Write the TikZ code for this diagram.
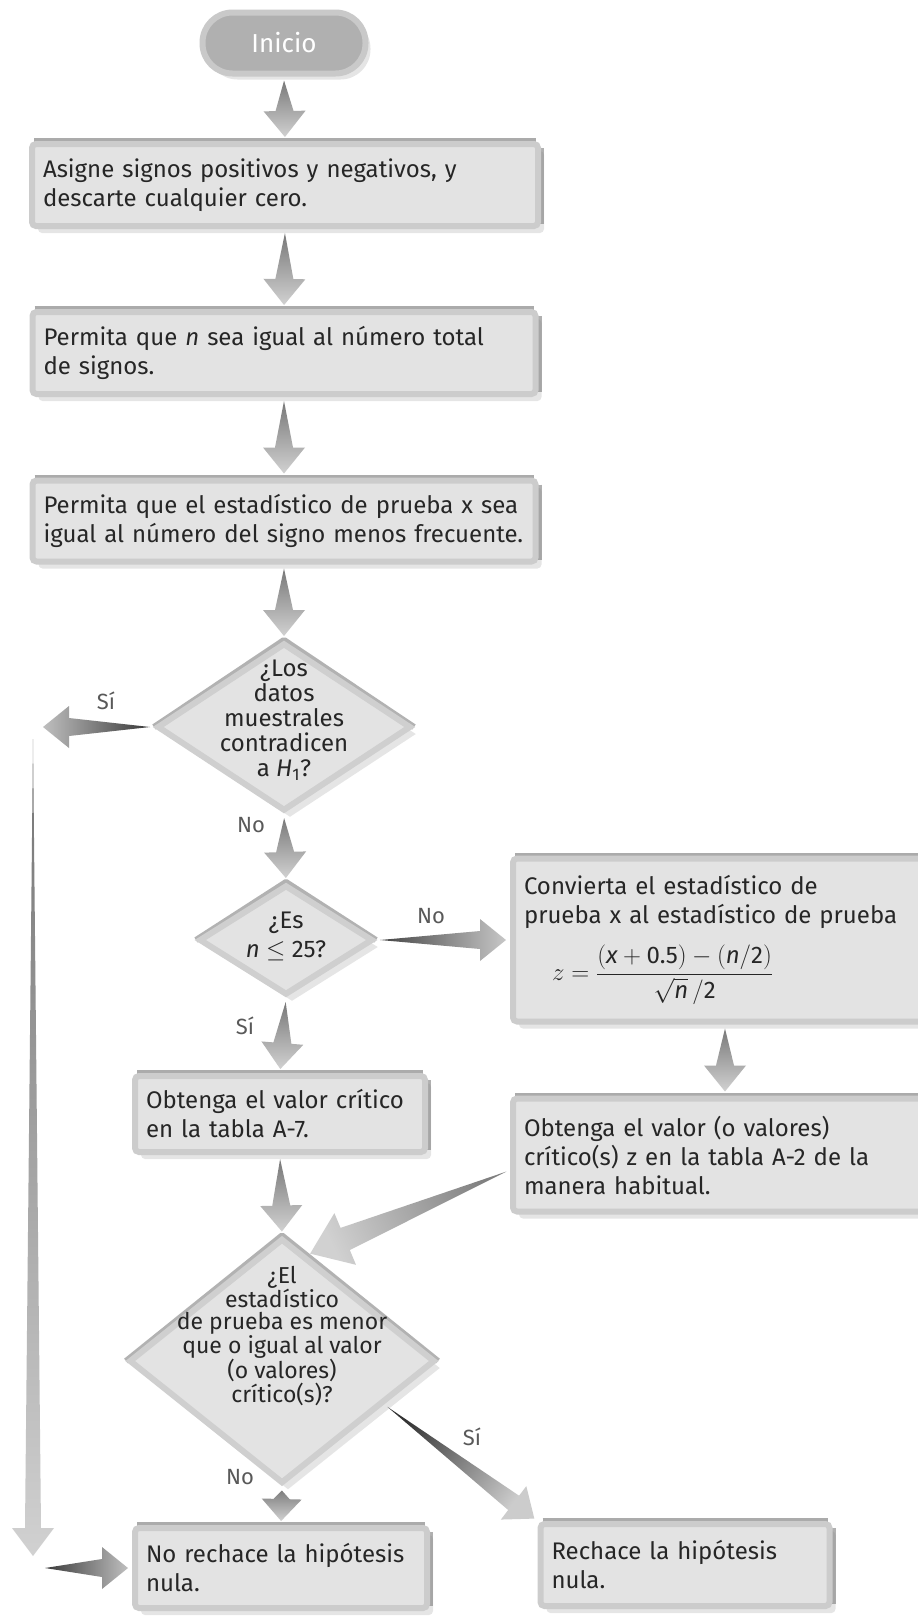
\documentclass[tikz,border=0pt]{standalone}
\usepackage{amsmath}
\usepackage{fontspec}
\setmainfont{Fira Sans}
\usetikzlibrary{calc,shapes.geometric,shadows}

\tikzset{
  fatarrow/.style n args={3}{to path={
    ($(\tikztostart)!4pt!(\tikztotarget)$)
    -- ($(\tikztotarget)!#1pt!(\tikztostart)!#3pt!90:(\tikztostart)$)
    -- ($(\tikztotarget)!#1pt!(\tikztostart)!#2pt!90:(\tikztostart)$)
    -- ($(\tikztotarget)!4pt!(\tikztostart)$)
    -- ($(\tikztotarget)!#1pt!(\tikztostart)!#2pt!-90:(\tikztostart)$)
    -- ($(\tikztotarget)!#1pt!(\tikztostart)!#3pt!-90:(\tikztostart)$)
    -- cycle}},
  flowarrow/.style={fatarrow={30}{21}{9}},
}

\begin{document}
\begin{tikzpicture}[x=1pt, y=-1pt,
    font=\fontsize{24}{29}\selectfont, text=black!85,
    startbox/.style={rectangle, rounded corners=30pt, fill=gray!62, draw=gray!42,
      line width=6pt, minimum width=163pt, minimum height=61pt, text=white,
      font=\fontsize{26}{30}\selectfont,
      drop shadow={shadow xshift=5pt, shadow yshift=-6pt, opacity=0.2}},
    procbox/.style={rectangle, rounded corners=4pt, fill=gray!22, draw=gray!40,
      line width=6pt, align=left, inner xsep=11pt, inner ysep=0pt,
      drop shadow={shadow xshift=6pt, shadow yshift=-7pt, opacity=0.2},
      append after command={\pgfextra{
        \draw[gray!66, line width=10pt]
          ($(\tikzlastnode.north west)+(5,2)$) -- ($(\tikzlastnode.north east)+(-5,2)$);
        \draw[gray!62, line width=8pt]
          ($(\tikzlastnode.north east)+(-1,7)$) -- ($(\tikzlastnode.south east)+(-1,-5)$);}}},
    decision/.style={diamond, fill=gray!22, draw=gray!38, line width=6pt, inner sep=0pt,
      drop shadow={shadow xshift=6pt, shadow yshift=-7pt, opacity=0.2},
      append after command={\pgfextra{
        \draw[gray!60, line width=6pt, line join=bevel]
          (\tikzlastnode.west) -- (\tikzlastnode.north) -- (\tikzlastnode.east);}}},
    dtext/.style={align=center, font=\fontsize{24}{25}\selectfont},
    answer/.style={text=black!65, font=\fontsize{22}{24}\selectfont},
    vshade/.style={top color=black!55, bottom color=black!18},
  ]
    % page
    \path[use as bounding box, fill=white] (0,0) rectangle (918,1618);

    % 1. Main column
    \node[startbox] (ini) at (284,43) {Inicio};
    \node[procbox, text width=484pt, minimum height=82pt] (b1) at (285,185)
      {Asigne signos positivos y negativos, y\\descarte cualquier cero.};
    \node[procbox, text width=481pt, minimum height=82pt] (b2) at (284,353)
      {Permita que \textit{n} sea igual al número total\\de signos.};
    \node[procbox, text width=481pt, minimum height=81pt] (b3) at (284,521)
      {Permita que el estadístico de prueba x sea\\igual al número del signo menos frecuente.};

    % 2. Decisions
    \node[decision, minimum width=254pt, minimum height=168pt] (d1) at (284,727) {};
    \node[dtext] (d1t) at (284,720) {¿Los\\datos\\muestrales\\contradicen\\a \textit{H}\textsubscript{1}?};
    \node[decision, minimum width=174pt, minimum height=110pt] (d2) at (286,940) {};
    \node[dtext, font=\fontsize{24}{29}\selectfont] (d2t) at (286,936) {¿Es\\\textit{n} $\leq$ 25?};

    % 3. Right column
    \node[procbox, text width=402pt, minimum height=163pt] (conv) at (725,940)
      {Convierta el estadístico de\\prueba x al estadístico de prueba\\[16pt]
       \hspace*{28pt}$z=\dfrac{(\textit{x} + \text{0.5}) - (\textit{n}/\text{2})}
       {\sqrt{\textit{n}}\,/\text{2}}$};
    \node[procbox, text width=402pt, minimum height=113pt] (obtz) at (725,1155)
      {Obtenga el valor (o valores)\\crítico(s) z en la tabla A-2 de la\\manera habitual.};
    \node[procbox, text width=268pt, minimum height=76pt] (a7) at (280,1114)
      {Obtenga el valor crítico\\en la tabla A-7.};

    % 4. Last decision and conclusions
    \node[decision, minimum width=306pt, minimum height=245pt] (d3) at (282,1361) {};
    \node[dtext, font=\fontsize{23}{22}\selectfont] (d3t) at (282,1336)
      {¿El\\estadístico\\de prueba es menor\\que o igual al valor\\(o valores)\\crítico(s)?};
    \node[procbox, text width=270pt, minimum height=80pt] (norech) at (281,1568)
      {No rechace la hipótesis\\nula.};
    \node[procbox, text width=267pt, minimum height=82pt] (rech) at (685,1565)
      {Rechace la hipótesis\\nula.};

    % 5. Free ends of the long way round
    \coordinate (siend) at (39,727);
    \coordinate (downtop) at (33,735);
    \coordinate (downend) at (33,1560);
    \coordinate (leftin) at (41,1568);

    % 6. Block arrows
    \shade[vshade] (ini.south) to[flowarrow] (b1.north);
    \shade[vshade] (b1.south) to[flowarrow] (b2.north);
    \shade[vshade] (b2.south) to[flowarrow] (b3.north);
    \shade[vshade] (b3.south) to[flowarrow] (d1.north);
    \shade[left color=black!25, right color=black!80] (d1.west) to[flowarrow] (siend);
    \shade[vshade] (downtop) to[fatarrow={32}{21}{8}] (downend);
    \shade[left color=black!80, right color=black!25] (leftin) to[flowarrow] (norech.west);
    \shade[vshade] (d1.south) to[flowarrow] (d2.north);
    \shade[left color=black!75, right color=black!22] (d2.east) to[flowarrow] (conv.west);
    \shade[vshade] (d2.south) to[flowarrow] (a7.north);
    \shade[vshade] (conv.south) to[flowarrow] (obtz.north);
    \shade[vshade] (a7.south) to[flowarrow] (d3.north);
    \shade[left color=black!18, right color=black!50, shading angle=115.7]
      (obtz.184) to[fatarrow={42}{28}{12}] (d3.77);
    \shade[top color=black!80, bottom color=black!20, shading angle=53.6]
      (d3.-23) to[flowarrow] (rech.north west);
    \shade[vshade] (d3.south) to[fatarrow={26}{20}{8}] (norech.north);

    % 7. Answers
    \node[answer] (si1) at (106,701) {Sí};
    \node[answer] (no1) at (251,825) {No};
    \node[answer] (no2) at (431,916) {No};
    \node[answer] (si2) at (245,1026) {Sí};
    \node[answer] (si3) at (472,1437) {Sí};
    \node[answer] (no3) at (240,1477) {No};
\end{tikzpicture}
\end{document}
